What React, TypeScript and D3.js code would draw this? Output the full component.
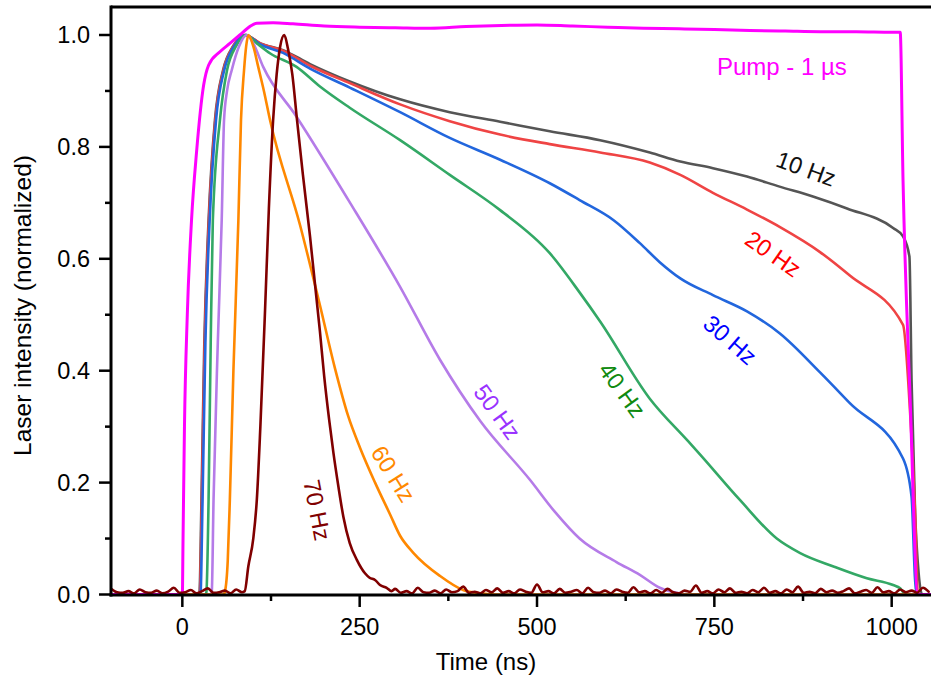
import React from "react";
import * as d3 from "d3";

// ---------- data (time in ns, normalized intensity) ----------
const pumpData: [number, number][] = [
  [-100, 0], [0, 0], [1, 0.1], [3, 0.3], [7, 0.5], [13, 0.67], [20, 0.79], [30, 0.91], [37, 0.946],
  [53, 0.97], [67, 0.985], [81, 1.0], [95, 1.015], [105, 1.021], [128, 1.022], [156, 1.02],
  [200, 1.016], [250, 1.014], [300, 1.013], [350, 1.012], [400, 1.015], [450, 1.017], [500, 1.018],
  [550, 1.016], [600, 1.014], [650, 1.012], [700, 1.011], [750, 1.01], [800, 1.008], [850, 1.007],
  [900, 1.006], [950, 1.006], [1000, 1.005], [1012, 1.005], [1016, 0.74], [1026, 0.35], [1037, 0], [1055, 0],
];

const hz10: [number, number][] = [
  [-100, 0], [24, 0], [27, 0.17], [31, 0.45], [37, 0.669], [46, 0.848], [57.4, 0.937], [71.5, 0.98], [88, 1.0],
  [110, 0.985], [142, 0.973], [180, 0.948], [236, 0.917], [307, 0.885], [377, 0.862], [448, 0.845],
  [518, 0.828], [589, 0.812], [659, 0.79], [702, 0.774], [748, 0.762], [796, 0.747], [842, 0.729],
  [890, 0.711], [937, 0.69], [1002, 0.655], [1016, 0.64], [1025, 0.604], [1028, 0.383], [1033, 0.146],
  [1038, 0.038], [1043, 0], [1055, 0],
];

const hz20: [number, number][] = [
  [-100, 0], [24.5, 0], [27.5, 0.17], [31.5, 0.45], [37.5, 0.669], [46.5, 0.848], [58, 0.937], [72, 0.98], [88.5, 1.0],
  [110, 0.985], [142, 0.972], [180, 0.945], [236, 0.914], [307, 0.876], [377, 0.846], [448, 0.822],
  [518, 0.805], [589, 0.79], [659, 0.772], [702, 0.75], [748, 0.718], [796, 0.688], [842, 0.657],
  [899, 0.612], [941, 0.57], [1016, 0.482], [1026, 0.324], [1033, 0.146], [1037, 0], [1055, 0],
];

const hz30: [number, number][] = [
  [-100, 0], [25.5, 0], [28.5, 0.17], [32.5, 0.45], [38.5, 0.669], [47.5, 0.848], [59, 0.937], [73, 0.98], [89, 1.0],
  [110, 0.983], [142, 0.968], [180, 0.94], [236, 0.906], [307, 0.862], [377, 0.816], [448, 0.777],
  [518, 0.735], [560, 0.705], [608, 0.669], [645, 0.628], [673, 0.594], [702, 0.565], [748, 0.535],
  [796, 0.506], [842, 0.467], [899, 0.397], [941, 0.342], [1016, 0.243], [1028, 0.175], [1033, 0.026],
  [1035, 0], [1055, 0],
];

const hz40: [number, number][] = [
  [-100, 0], [33, 0], [34, 0.005], [37, 0.17], [40, 0.45], [43, 0.669], [53, 0.848], [63, 0.937], [75.7, 0.98],
  [90, 1.0], [105, 0.985], [124, 0.967], [161, 0.943], [194, 0.908], [236, 0.87], [307, 0.812],
  [377, 0.75], [448, 0.687], [518, 0.61], [560, 0.54], [589, 0.488], [659, 0.35], [713, 0.274],
  [730, 0.25], [786, 0.169], [838, 0.1], [871, 0.074], [918, 0.05], [965, 0.029], [1002, 0.017],
  [1012, 0.011], [1020, 0], [1055, 0],
];

const hz50: [number, number][] = [
  [-100, 0], [40, 0], [41.5, 0.005], [44, 0.17], [50, 0.45], [55.5, 0.669], [58.8, 0.848], [63, 0.9],
  [69.6, 0.937], [80, 0.98], [91, 1.0], [100, 0.985], [114, 0.943], [161, 0.854], [236.5, 0.7],
  [307, 0.55], [363, 0.42], [420, 0.31], [490, 0.205], [525, 0.148], [560, 0.1], [612, 0.058],
  [645, 0.035], [673, 0.012], [700, 0.002], [710, 0], [1055, 0],
];

const hz60: [number, number][] = [
  [-100, 0], [58, 0], [60, 0.005], [64, 0.06], [67, 0.17], [72, 0.4], [79, 0.669], [82.7, 0.848],
  [87, 0.937], [90, 0.98], [93.3, 1.0], [100, 0.98], [107, 0.943], [115, 0.9], [123.6, 0.848],
  [166, 0.66], [194, 0.517], [215, 0.405], [233.5, 0.32], [250.6, 0.262], [271.7, 0.2],
  [292.9, 0.143], [307, 0.105], [325.3, 0.075], [363.4, 0.033], [395.8, 0.008], [420, 0.002],
  [440, 0], [1055, 0],
];

const hz70Pulse: [number, number][] = [
  [88, 0.006], [93, 0.05], [100, 0.1], [105, 0.169], [110, 0.3], [116.6, 0.508], [122, 0.69],
  [128, 0.848], [133, 0.93], [138, 0.98], [143.7, 1.0], [149, 0.975], [155, 0.93], [161.7, 0.848],
  [170, 0.75], [180, 0.64], [194, 0.47], [200, 0.39], [207, 0.312], [213, 0.253], [220, 0.193],
  [227, 0.139], [236, 0.092], [246, 0.062], [257.5, 0.038], [264, 0.03], [271.6, 0.026],
  [278.7, 0.017], [288, 0.012], [295, 0.006],
];

// baseline noise of the 70 Hz trace, one value every 8 ns from -100 ns
const noiseStart = -100;
const noiseStep = 8;
const baselineNoise: number[] = [
  0.010, 0.004, 0.003, 0.006, 0.002, 0.009, 0.004, 0.003, 0.007, 0.002,
  0.005, 0.012, 0.003, 0.004, 0.008, 0.002, 0.006, 0.011, 0.003, 0.004,
  0.007, 0.002, 0.009, 0.004, 0.003, 0.006, 0.013, 0.004, 0.002, 0.007,
  0.005, 0.015, 0.003, 0.006, 0.002, 0.008, 0.004, 0.011, 0.003, 0.005,
  0.002, 0.009, 0.004, 0.006, 0.017, 0.003, 0.005, 0.002, 0.008, 0.004,
  0.010, 0.003, 0.006, 0.002, 0.012, 0.004, 0.003, 0.007, 0.002, 0.009,
  0.004, 0.006, 0.014, 0.003, 0.005, 0.002, 0.008, 0.004, 0.011, 0.003,
  0.006, 0.002, 0.009, 0.005, 0.003, 0.018, 0.004, 0.006, 0.002, 0.010,
  0.003, 0.005, 0.008, 0.002, 0.012, 0.004, 0.003, 0.007, 0.002, 0.009,
  0.005, 0.003, 0.013, 0.004, 0.006, 0.002, 0.008, 0.003, 0.010, 0.004,
  0.002, 0.007, 0.005, 0.016, 0.003, 0.006, 0.002, 0.009, 0.004, 0.011,
  0.003, 0.005, 0.002, 0.008, 0.004, 0.012, 0.003, 0.006, 0.002, 0.009,
  0.004, 0.014, 0.003, 0.005, 0.002, 0.010, 0.004, 0.007, 0.003, 0.006,
  0.011, 0.002, 0.005, 0.008, 0.003, 0.013, 0.004, 0.006, 0.002, 0.009,
  0.004, 0.007, 0.003, 0.012, 0.005,
];

const xMajorTicks = [0, 250, 500, 750, 1000];
const xMinorTicks = [125, 375, 625, 875];
const xTickLabels = ["0", "250", "500", "750", "1000"];
const yMajorTicks = [0, 0.2, 0.4, 0.6, 0.8, 1.0];
const yMinorTicks = [0.1, 0.3, 0.5, 0.7, 0.9];
const yTickLabels = ["0.0", "0.2", "0.4", "0.6", "0.8", "1.0"];

const seriesNames = ["10 Hz", "20 Hz", "30 Hz", "40 Hz", "50 Hz", "60 Hz", "70 Hz"];

// ---------- styling ----------
const W = 931;
const H = 684;
const FONT = "'Liberation Sans', Arial, Helvetica, sans-serif";

const lineColors: Record<string, string> = {
  pump: "#ff00ff",
  "10 Hz": "#555555",
  "20 Hz": "#ef4444",
  "30 Hz": "#2266dd",
  "40 Hz": "#33a865",
  "50 Hz": "#b57be8",
  "60 Hz": "#ff8800",
  "70 Hz": "#800000",
};
const labelColors: Record<string, string> = {
  "10 Hz": "#111111",
  "20 Hz": "#ff0000",
  "30 Hz": "#0000ff",
  "40 Hz": "#108a10",
  "50 Hz": "#9933ff",
  "60 Hz": "#ff8800",
  "70 Hz": "#800000",
};
// label placement in pixels (center) and rotation
const labelPos: Record<string, [number, number, number]> = {
  "10 Hz": [806, 169, 20],
  "20 Hz": [773, 254, 35],
  "30 Hz": [730, 340, 41],
  "40 Hz": [622, 390, 54],
  "50 Hz": [497, 412, 54],
  "60 Hz": [393, 474, 58],
  "70 Hz": [317, 510, 79],
};

export default function App() {
  const x = d3.scaleLinear().domain([-100, 1055]).range([111.4, 930.7]);
  const y = d3.scaleLinear().domain([0, 1]).range([594.5, 35]);

  const noisePts: [number, number][] = baselineNoise.map((v, i) => [noiseStart + i * noiseStep, v]);
  const hz70: [number, number][] = [
    ...noisePts.filter((p) => p[0] < 86),
    ...hz70Pulse,
    ...noisePts.filter((p) => p[0] > 297),
  ];

  const line = d3
    .line<[number, number]>()
    .x((d) => x(d[0]))
    .y((d) => y(d[1]))
    .curve(d3.curveMonotoneX);

  const seriesData: Record<string, [number, number][]> = {
    "10 Hz": hz10,
    "20 Hz": hz20,
    "30 Hz": hz30,
    "40 Hz": hz40,
    "50 Hz": hz50,
    "60 Hz": hz60,
    "70 Hz": hz70,
  };

  const left = 111;
  const bottom = 595;
  const top = 7;

  return (
    <svg
      width={W}
      height={H}
      style={{ position: "absolute", left: 0, top: 0, background: "#fff" }}
      fontFamily={FONT}
    >
      <rect x={0} y={0} width={W} height={H} fill="#fff" />
      <defs>
        <clipPath id="plotclip">
          <rect x={left} y={0} width={W - left} height={bottom + 2} />
        </clipPath>
      </defs>

      <g clipPath="url(#plotclip)" fill="none" strokeLinejoin="round" strokeLinecap="round">
        {seriesNames.slice(0, 6).map((n) => (
          <path key={n} d={line(seriesData[n]) || ""} stroke={lineColors[n]} strokeWidth={2.6} />
        ))}
        <path d={line(pumpData) || ""} stroke={lineColors.pump} strokeWidth={3} />
        <path d={line(hz70) || ""} stroke={lineColors["70 Hz"]} strokeWidth={2.6} />
      </g>

      {/* frame */}
      <g stroke="#000" strokeWidth={3} fill="none">
        <line x1={left} y1={top} x2={W} y2={top} />
        <line x1={left} y1={top - 1.5} x2={left} y2={bottom + 1.5} />
        <line x1={left - 1.5} y1={bottom} x2={W} y2={bottom} />
      </g>

      {/* ticks */}
      <g stroke="#000" strokeWidth={2.5}>
        {xMajorTicks.map((t) => (
          <line key={"xM" + t} x1={x(t)} x2={x(t)} y1={bottom} y2={bottom + 12} />
        ))}
        {xMinorTicks.map((t) => (
          <line key={"xm" + t} x1={x(t)} x2={x(t)} y1={bottom} y2={bottom + 6} />
        ))}
        {yMajorTicks.map((t) => (
          <line key={"yM" + t} x1={left - 12} x2={left} y1={y(t)} y2={y(t)} />
        ))}
        {yMinorTicks.map((t) => (
          <line key={"ym" + t} x1={left - 6} x2={left} y1={y(t)} y2={y(t)} />
        ))}
      </g>

      <g fontSize={23.5} fill="#000">
        {xMajorTicks.map((t, i) => (
          <text key={"xl" + t} x={x(t)} y={635} textAnchor="middle">
            {xTickLabels[i]}
          </text>
        ))}
        {yMajorTicks.map((t, i) => (
          <text key={"yl" + t} x={90} y={y(t) + 8} textAnchor="end">
            {yTickLabels[i]}
          </text>
        ))}
      </g>

      <text x={486} y={670} textAnchor="middle" fontSize={24} fill="#000">
        Time (ns)
      </text>
      <text
        transform="translate(31,305.5) rotate(-90)"
        textAnchor="middle"
        fontSize={24.5}
        fill="#000"
      >
        Laser intensity (normalized)
      </text>

      <text x={717} y={75} fontSize={24} fill="#ff00ff">
        Pump - 1 µs
      </text>

      {seriesNames.map((n) => {
        const [cx, cy, a] = labelPos[n];
        return (
          <text
            key={"lab" + n}
            transform={`translate(${cx},${cy}) rotate(${a})`}
            textAnchor="middle"
            dominantBaseline="central"
            fontSize={23.5}
            fill={labelColors[n]}
          >
            {n}
          </text>
        );
      })}
    </svg>
  );
}
